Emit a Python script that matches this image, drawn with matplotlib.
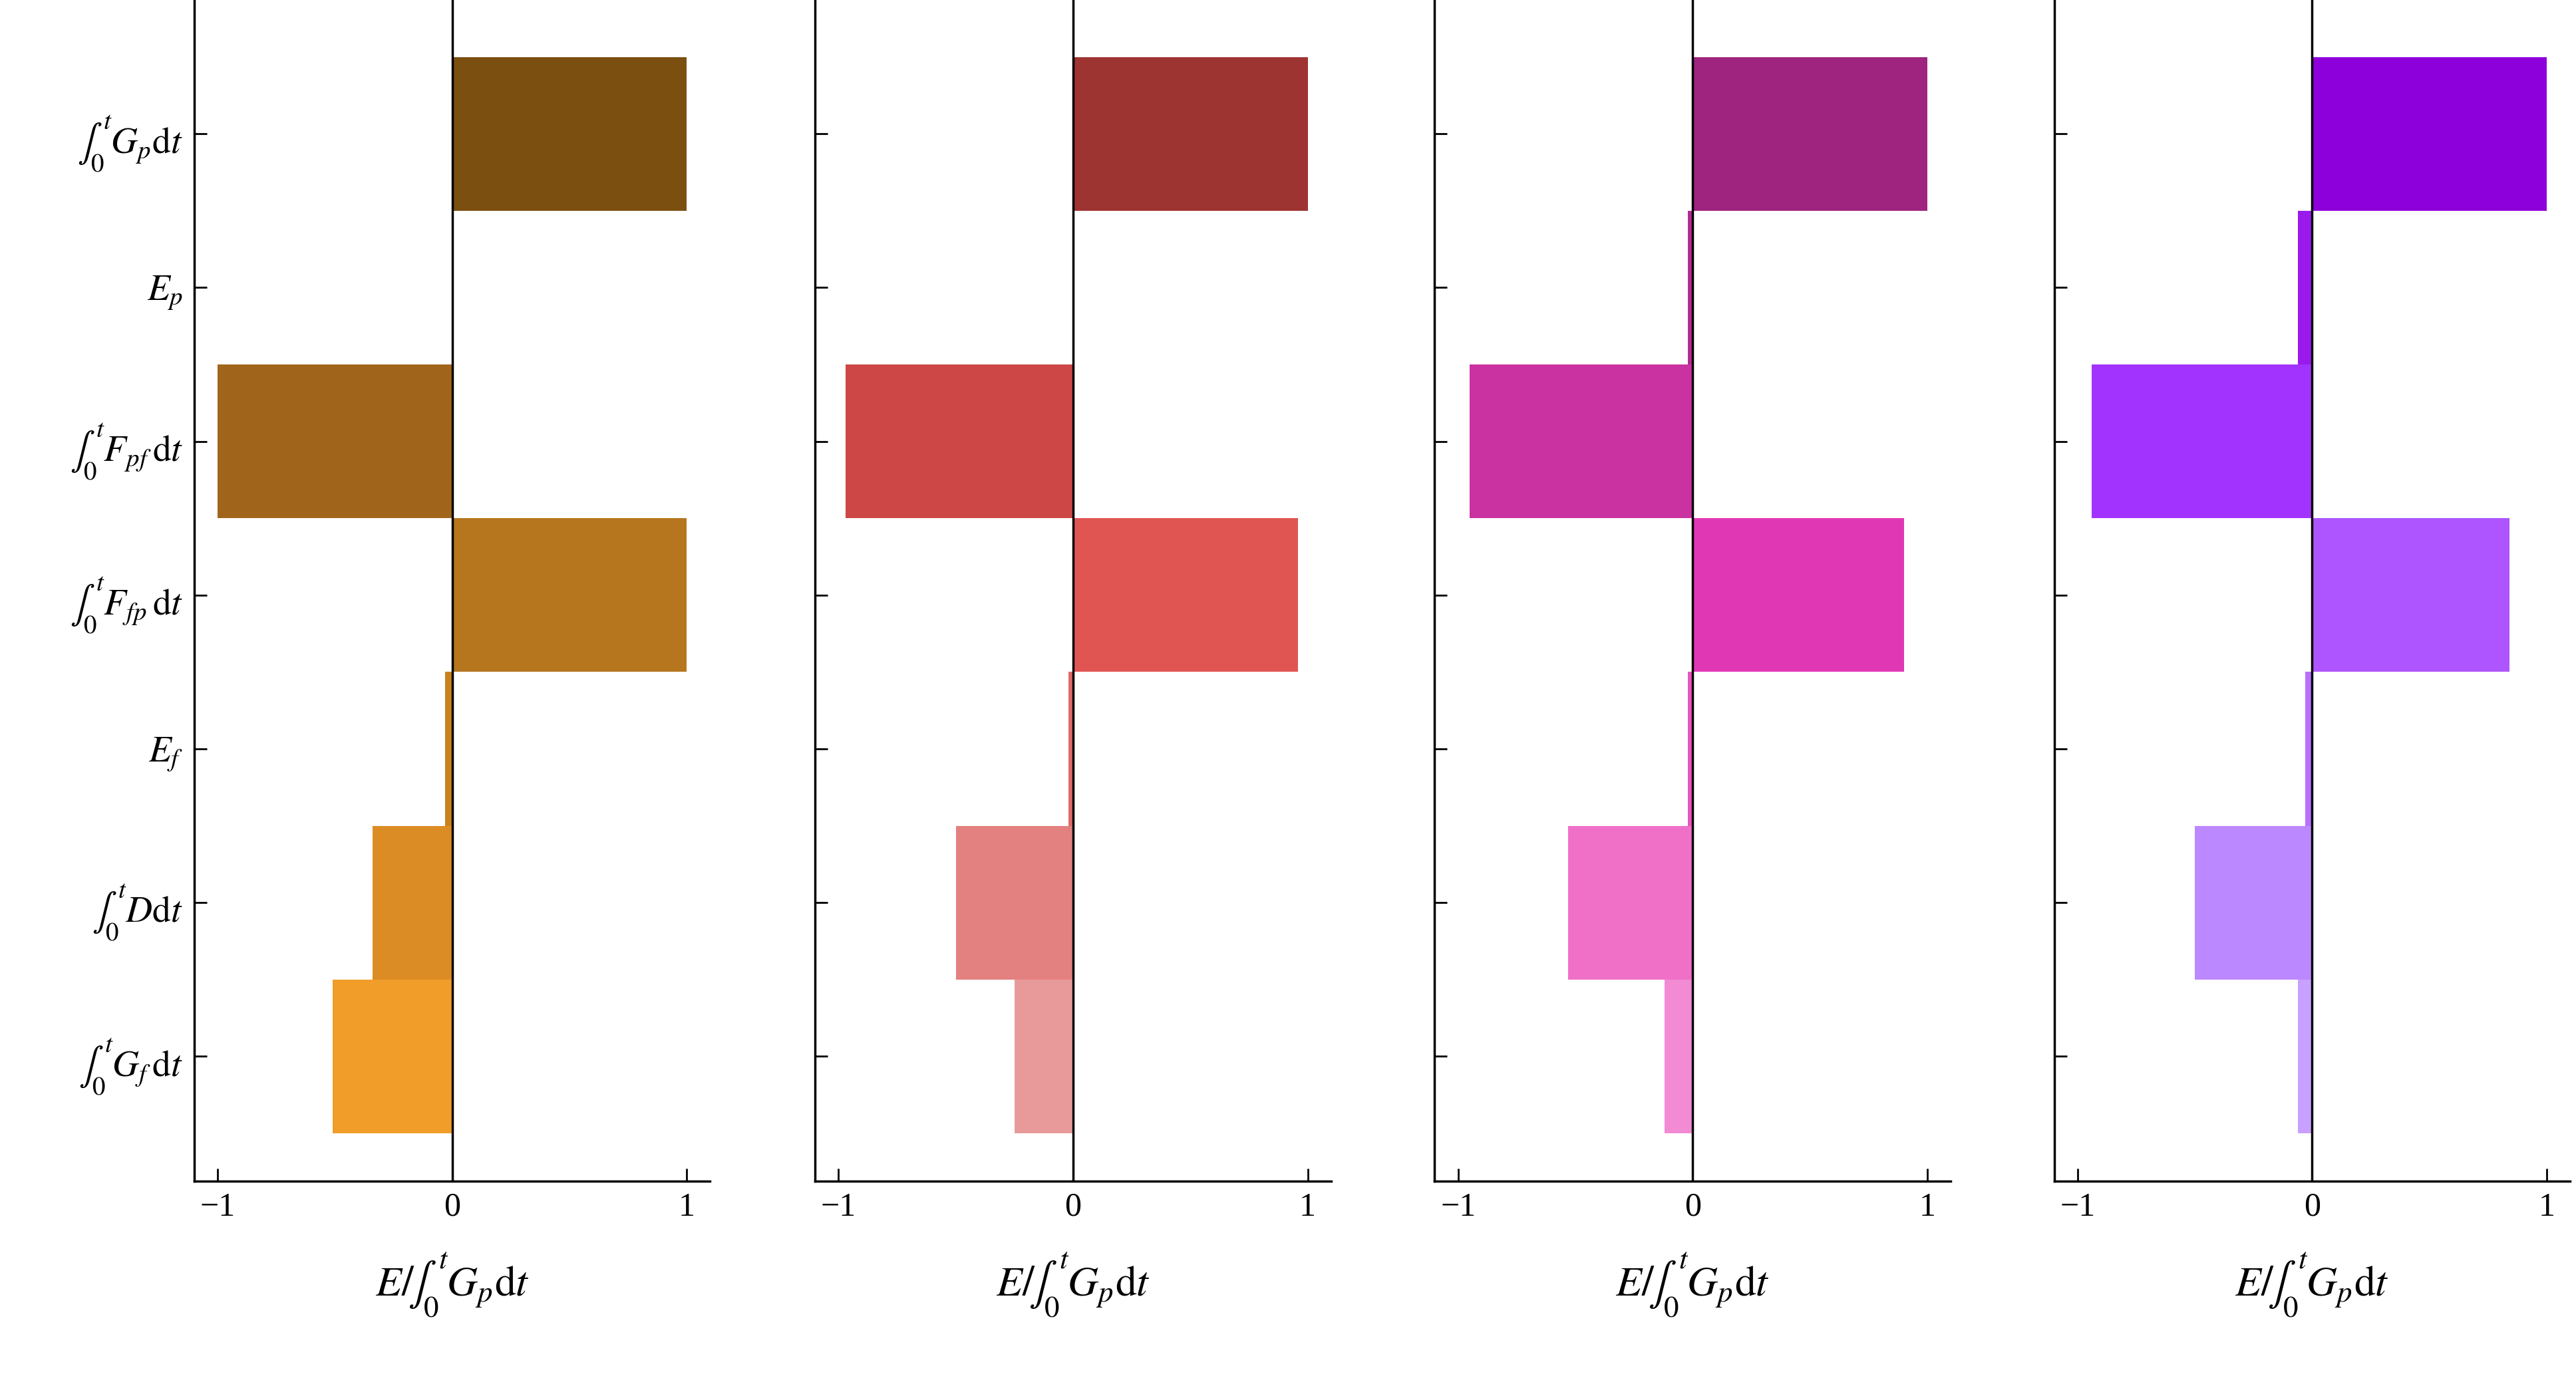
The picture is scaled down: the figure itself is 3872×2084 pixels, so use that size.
import matplotlib
matplotlib.use("Agg")
import matplotlib.pyplot as plt

plt.rcParams['font.family'] = ['Liberation Serif', 'DejaVu Serif']
plt.rcParams['mathtext.fontset'] = 'stix'

categories = [r'$\int_0^t G_p\mathrm{d}t$', r'$E_p$', r'$\int_0^t F_{pf}\,\mathrm{d}t$',
              r'$\int_0^t F_{fp}\,\mathrm{d}t$', r'$E_f$', r'$\int_0^t D\mathrm{d}t$',
              r'$\int_0^t G_f\,\mathrm{d}t$']
values = [
    [1.0, 0.0, -1.0, 1.0, -0.03, -0.34, -0.51],
    [1.0, 0.005, -0.97, 0.96, -0.02, -0.50, -0.25],
    [1.0, -0.02, -0.95, 0.90, -0.02, -0.53, -0.12],
    [1.0, -0.06, -0.94, 0.84, -0.03, -0.50, -0.06],
]
colors = [
    ['#7B4F10', '#8D5A15', '#A0651A', '#B5761E', '#C8821F', '#DC8C25', '#F09D2A'],
    ['#9E3432', '#B53E3B', '#CC4745', '#E05552', '#E06A68', '#E38080', '#E89A9A'],
    ['#9E2480', '#B42B90', '#C932A0', '#E038B5', '#E855BF', '#F070C8', '#F28AD4'],
    ['#8E00DB', '#9A1AEE', '#A233FF', '#AE55FF', '#B670FF', '#BC88FF', '#C8A0FF'],
]
xlabel = r'$E/\!\int_0^t G_p\mathrm{d}t$'

fig = plt.figure(figsize=(38.73, 20.84), dpi=100)
lefts = [0.0753, 0.3163, 0.5568, 0.7972]
for i, l in enumerate(lefts):
    ax = fig.add_axes([l, 0.148, 0.2003, 0.852])
    ypos = list(range(len(categories)))
    ax.barh(ypos, values[i], height=1.0, color=colors[i])
    ax.axvline(0, color='black', lw=2.5)
    ax.set_xlim(-1.1, 1.1)
    ax.set_ylim(6.81, -0.87)
    ax.set_yticks(ypos)
    if i == 0:
        ax.set_yticklabels(categories, fontsize=40)
    else:
        ax.set_yticklabels([])
    ax.set_xticks([-1, 0, 1])
    ax.set_xticklabels(['\u22121', '0', '1'], fontsize=36)
    ax.tick_params(direction='in', length=14, width=2, pad=12)
    for s in ['top', 'right']:
        ax.spines[s].set_visible(False)
    for s in ['left', 'bottom']:
        ax.spines[s].set_linewidth(2.5)
    ax.set_xlabel(xlabel, fontsize=46, labelpad=30)

fig.savefig('out.png', dpi=100)
